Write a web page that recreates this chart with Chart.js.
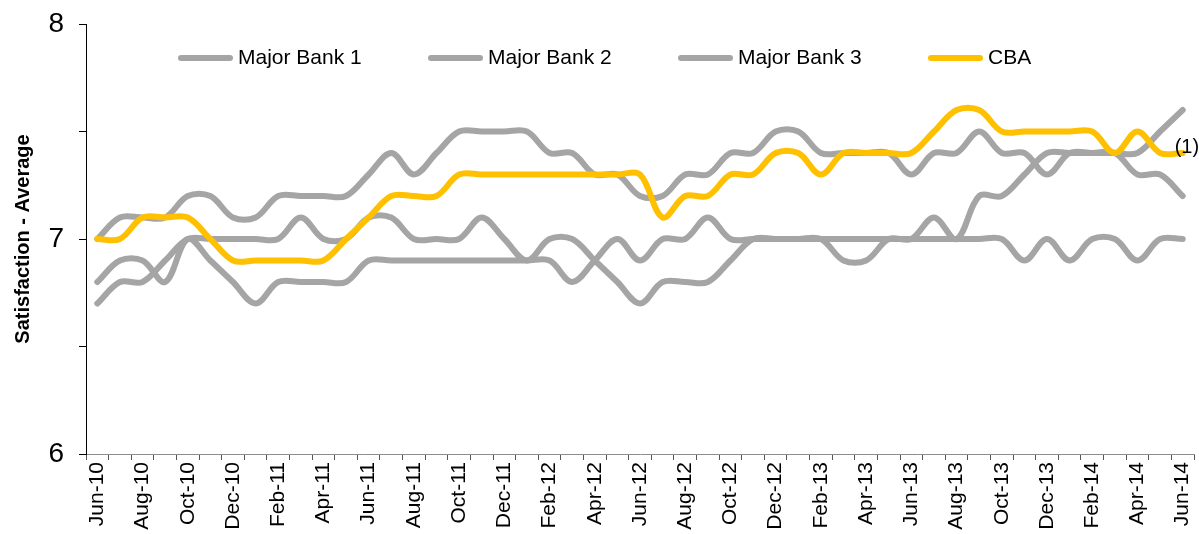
<!DOCTYPE html>
<html>
<head>
<meta charset="utf-8">
<script src="https://cdn.jsdelivr.net/npm/chart.js@4.4.1/dist/chart.umd.min.js"></script>
<style>
  body { margin: 0; background: #fff; }
  #wrap { width: 1199px; height: 534px; }
</style>
</head>
<body>
<div id="wrap"><canvas id="myChart" width="1199" height="534"></canvas></div>
<script>
var months = [
    'Jun-10', 'Jul-10', 'Aug-10', 'Sep-10', 'Oct-10', 'Nov-10', 'Dec-10',
    'Jan-11', 'Feb-11', 'Mar-11', 'Apr-11', 'May-11', 'Jun-11', 'Jul-11', 'Aug-11', 'Sep-11', 'Oct-11', 'Nov-11', 'Dec-11',
    'Jan-12', 'Feb-12', 'Mar-12', 'Apr-12', 'May-12', 'Jun-12', 'Jul-12', 'Aug-12', 'Sep-12', 'Oct-12', 'Nov-12', 'Dec-12',
    'Jan-13', 'Feb-13', 'Mar-13', 'Apr-13', 'May-13', 'Jun-13', 'Jul-13', 'Aug-13', 'Sep-13', 'Oct-13', 'Nov-13', 'Dec-13',
    'Jan-14', 'Feb-14', 'Mar-14', 'Apr-14', 'May-14', 'Jun-14'
];

var bank1 = [
    7.0, 7.1, 7.1, 7.1, 7.2, 7.2, 7.1, 7.1, 7.2, 7.2, 7.2, 7.2,
    7.3, 7.4, 7.3, 7.4, 7.5, 7.5, 7.5, 7.5, 7.4, 7.4, 7.3, 7.3,
    7.2, 7.2, 7.3, 7.3, 7.4, 7.4, 7.5, 7.5, 7.4, 7.4, 7.4, 7.4,
    7.3, 7.4, 7.4, 7.5, 7.4, 7.4, 7.3, 7.4, 7.4, 7.4, 7.3, 7.3,
    7.2
];
var bank2 = [
    6.8, 6.9, 6.9, 6.8, 7.0, 6.9, 6.8, 6.7, 6.8, 6.8, 6.8, 6.8,
    6.9, 6.9, 6.9, 6.9, 6.9, 6.9, 6.9, 6.9, 6.9, 6.8, 6.9, 7.0,
    6.9, 7.0, 7.0, 7.1, 7.0, 7.0, 7.0, 7.0, 7.0, 6.9, 6.9, 7.0,
    7.0, 7.1, 7.0, 7.2, 7.2, 7.3, 7.4, 7.4, 7.4, 7.4, 7.4, 7.5,
    7.6
];
var bank3 = [
    6.7, 6.8, 6.8, 6.9, 7.0, 7.0, 7.0, 7.0, 7.0, 7.1, 7.0, 7.0,
    7.1, 7.1, 7.0, 7.0, 7.0, 7.1, 7.0, 6.9, 7.0, 7.0, 6.9, 6.8,
    6.7, 6.8, 6.8, 6.8, 6.9, 7.0, 7.0, 7.0, 7.0, 7.0, 7.0, 7.0,
    7.0, 7.0, 7.0, 7.0, 7.0, 6.9, 7.0, 6.9, 7.0, 7.0, 6.9, 7.0,
    7.0
];
var cba = [
    7.0, 7.0, 7.1, 7.1, 7.1, 7.0, 6.9, 6.9, 6.9, 6.9, 6.9, 7.0,
    7.1, 7.2, 7.2, 7.2, 7.3, 7.3, 7.3, 7.3, 7.3, 7.3, 7.3, 7.3,
    7.3, 7.1, 7.2, 7.2, 7.3, 7.3, 7.4, 7.4, 7.3, 7.4, 7.4, 7.4,
    7.4, 7.5, 7.6, 7.6, 7.5, 7.5, 7.5, 7.5, 7.5, 7.4, 7.5, 7.4,
    7.4
];

var yTicks = [6, 7, 8];
var endNote = '(1)';

var grey = '#A5A5A5';
var gold = '#FFC000';
var FONT = 'Arial, "Liberation Sans", sans-serif';

Chart.defaults.font.family = FONT;
Chart.defaults.color = '#000';

function line(label, values, colour, order) {
    return {
        label: label,
        data: values,
        borderColor: colour,
        backgroundColor: colour,
        borderWidth: 6,
        borderCapStyle: 'round',
        borderJoinStyle: 'round',
        pointRadius: 0,
        pointHoverRadius: 0,
        tension: 0.35,
        fill: false,
        order: order
    };
}

// legend sits inside the plot area in the original, so draw it by hand
var insideLegend = {
    id: 'insideLegend',
    afterDraw: function (chart) {
        var ctx = chart.ctx;
        var area = chart.chartArea;
        ctx.save();
        ctx.font = '21px ' + FONT;
        ctx.textBaseline = 'middle';
        ctx.textAlign = 'left';
        ctx.lineCap = 'round';
        chart.data.datasets.forEach(function (ds, i) {
            var x = area.left + 92 + i * 250;
            var y = area.top + 34;
            ctx.strokeStyle = ds.borderColor;
            ctx.lineWidth = 6;
            ctx.beginPath();
            ctx.moveTo(x + 3, y);
            ctx.lineTo(x + 52, y);
            ctx.stroke();
            ctx.fillStyle = '#000';
            ctx.fillText(ds.label, x + 60, y);
        });
        ctx.restore();
    }
};

// "(1)" note next to the last CBA point
var endLabel = {
    id: 'endLabel',
    afterDatasetsDraw: function (chart) {
        var meta = chart.getDatasetMeta(3);
        var pt = meta.data[meta.data.length - 1];
        var ctx = chart.ctx;
        ctx.save();
        ctx.font = '20px ' + FONT;
        ctx.fillStyle = '#000';
        ctx.textAlign = 'left';
        ctx.textBaseline = 'middle';
        ctx.fillText(endNote, pt.x - 8, pt.y - 6);
        ctx.restore();
    }
};

var ctx = document.getElementById('myChart').getContext('2d');

var myChart = new Chart(ctx, {
    type: 'line',
    data: {
        labels: months,
        datasets: [
            line('Major Bank 1', bank1, grey, 1),
            line('Major Bank 2', bank2, grey, 1),
            line('Major Bank 3', bank3, grey, 1),
            line('CBA', cba, gold, 0)
        ]
    },
    options: {
        responsive: false,
        devicePixelRatio: 1,
        animation: false,
        layout: { padding: { top: 24, right: 5, left: 0, bottom: 0 } },
        plugins: {
            legend: { display: false },
            tooltip: { enabled: false }
        },
        scales: {
            x: {
                type: 'category',
                offset: true,
                grid: { offset: true, drawOnChartArea: false, drawTicks: true, tickLength: 6, color: '#555' },
                border: { display: true, color: '#8c8c8c', width: 1 },
                ticks: {
                    autoSkip: false,
                    minRotation: 90,
                    maxRotation: 90,
                    padding: 2,
                    font: { size: 21 },
                    color: '#000',
                    callback: function (v, i) {
                        return i % 2 === 0 ? this.getLabelForValue(v) : '';
                    }
                },
                afterFit: function (s) {
                    s.height = 80;
                    s.paddingLeft = 0;
                    s.paddingRight = 0;
                }
            },
            y: {
                min: yTicks[0],
                max: yTicks[yTicks.length - 1],
                grid: { drawOnChartArea: false, drawTicks: true, tickLength: 7, color: '#000' },
                border: { display: true, color: '#000', width: 1 },
                ticks: {
                    stepSize: 0.5,
                    padding: 15,
                    font: { size: 28 },
                    color: '#000',
                    callback: function (v) {
                        return yTicks.indexOf(v) >= 0 ? v : '';
                    }
                },
                title: {
                    display: true,
                    text: 'Satisfaction - Average',
                    font: { size: 20, weight: 'bold' },
                    color: '#000',
                    padding: { top: 11, bottom: 0 }
                },
                afterFit: function (s) {
                    s.width = 86;
                    s.paddingTop = 0;
                    s.paddingBottom = 0;
                }
            }
        }
    },
    plugins: [insideLegend, endLabel]
});
</script>
</body>
</html>
